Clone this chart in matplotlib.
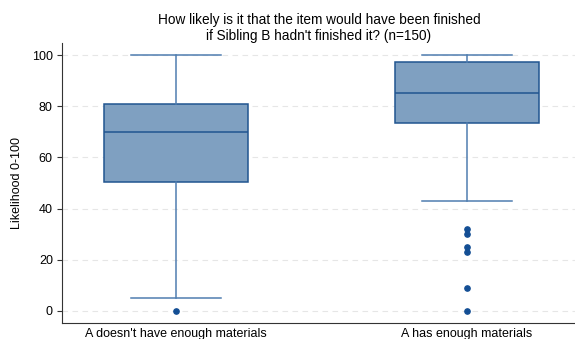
import matplotlib
matplotlib.use("Agg")
import matplotlib.pyplot as plt

plt.rcParams['font.family'] = ['Liberation Sans', 'DejaVu Sans']

# Summary statistics per group
categories = ["A doesn't have enough materials", "A has enough materials"]
whisker_low = [5, 43]
q1 = [50.5, 73.3]
median = [70, 85]
q3 = [81, 97.3]
whisker_high = [100, 100]
outliers = [[0], [32, 30, 25, 23, 9, 0]]
yticks = [0, 20, 40, 60, 80, 100]

fill = '#7fa0c1'
edge = '#215590'
whisk = '#4f7db0'
dot = '#134e94'

stats = []
for i, name in enumerate(categories):
    stats.append(dict(label=name, whislo=whisker_low[i], q1=q1[i], med=median[i],
                      q3=q3[i], whishi=whisker_high[i], fliers=outliers[i]))

fig = plt.figure(figsize=(5.75, 3.39), dpi=100)
ax = fig.add_axes([62/575, 1-323/339, (575-62)/575, (323-43)/339])

ax.set_ylim(-4.7, 104.7)
ax.set_xlim(0.608, 2.371)
for t in yticks:
    ax.axhline(t, color='#e6e6e6', lw=0.8, ls=(0, (5, 4)), zorder=0)

ax.bxp(stats, positions=[1, 2], widths=0.495, patch_artist=True,
       boxprops=dict(facecolor=fill, edgecolor=edge, linewidth=1.1),
       medianprops=dict(color=edge, linewidth=1.1),
       whiskerprops=dict(color=whisk, linewidth=1.1),
       capprops=dict(color=whisk, linewidth=1.1),
       capwidths=0.31,
       flierprops=dict(marker='o', markerfacecolor=dot, markeredgecolor=dot,
                       markersize=3.8, linestyle='none'),
       zorder=2)

ax.set_yticks(yticks)
ax.tick_params(axis='y', labelsize=9, length=3.6, width=0.8, color='#333333', pad=3)
ax.tick_params(axis='x', labelsize=9, length=0)
ax.set_ylabel('Likelihood 0-100', fontsize=9)
ax.yaxis.set_label_coords(-0.076, 0.5)
for s in ['top', 'right']:
    ax.spines[s].set_visible(False)
for s in ['left', 'bottom']:
    ax.spines[s].set_color('#333333')
    ax.spines[s].set_linewidth(0.8)

fig.text(319/575, 1-28/339,
         "How likely is it that the item would have been finished\nif Sibling B hadn't finished it? (n=150)",
         ha='center', va='center', fontsize=9.8, linespacing=1.12)

fig.savefig('out.png', dpi=100, facecolor='white')
